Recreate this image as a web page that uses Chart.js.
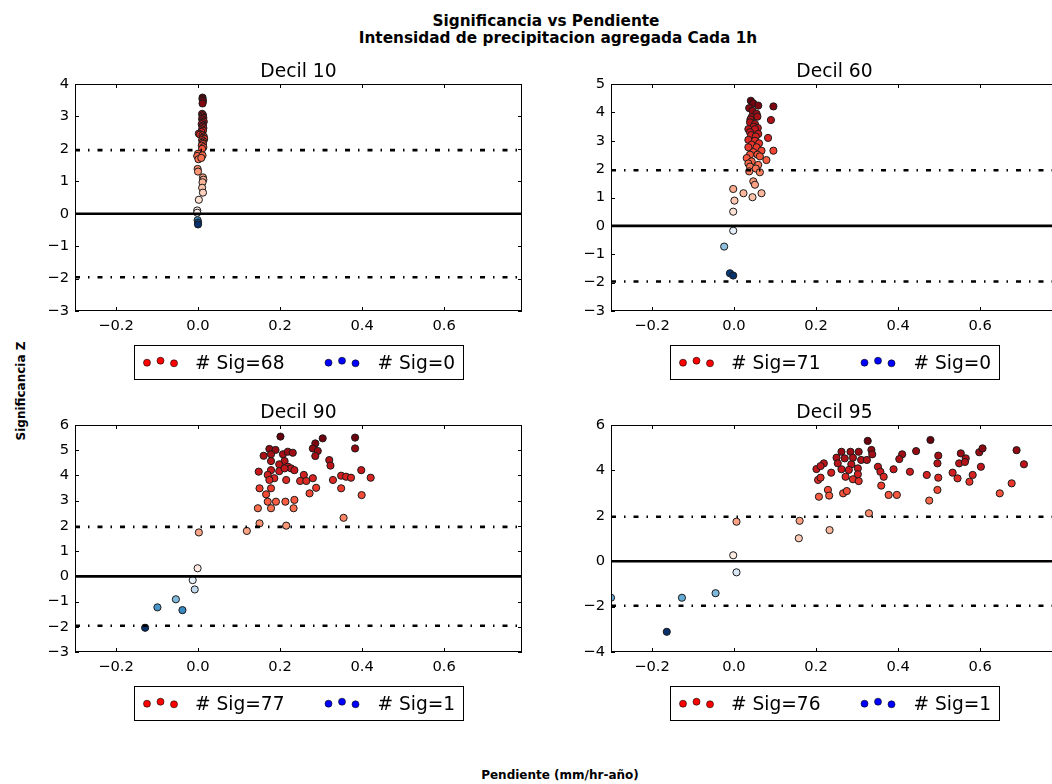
<!DOCTYPE html>
<html>
<head>
<meta charset="utf-8">
<script src="https://cdn.jsdelivr.net/npm/chart.js@4.4.1/dist/chart.umd.min.js"></script>
<style>
  body { margin: 0; background: #fff; width: 1052px; height: 784px; overflow: hidden; position: relative; font-family: 'DejaVu Sans', sans-serif; }
  canvas { position: absolute; }
  .lbl { position: absolute; font-weight: bold; white-space: nowrap; text-align: center; color: #000; }
</style>
</head>
<body>
<div class="lbl" style="left:346px; width:400px; top:14px; font-size:15.3px; line-height:15px;">Significancia vs Pendiente</div>
<div class="lbl" style="left:308px; width:500px; top:31px; font-size:15.3px; line-height:15px;">Intensidad de precipitacion agregada Cada 1h</div>
<div class="lbl" style="left:-79px; width:200px; top:385px; font-size:12px; line-height:12px; transform:rotate(-90deg);">Significancia Z</div>
<div class="lbl" style="left:460px; width:200px; top:769px; font-size:12px; line-height:12px;">Pendiente (mm/hr-año)</div>

<canvas id="c10" width="530" height="340" style="left:0px; top:50px;"></canvas>
<canvas id="c60" width="530" height="340" style="left:536px; top:50px;"></canvas>
<canvas id="c90" width="530" height="340" style="left:0px; top:391px;"></canvas>
<canvas id="c95" width="530" height="340" style="left:536px; top:391px;"></canvas>

<script>
(() => {

  // Data: [pendiente, significancia Z] per decil
  const decilLabels = ['Decil 10', 'Decil 60', 'Decil 90', 'Decil 95'];
  const sigPos = [68, 71, 77, 76];
  const sigNeg = [0, 0, 1, 1];

  const d10 = [
    [0.011,3.58],[0.011,3.53],[0.012,3.47],[0.011,3.40],[0.010,3.08],[0.012,3.04],[0.011,3.00],
    [0.013,2.96],[0.010,2.92],[0.012,2.88],[0.014,2.84],[0.011,2.80],[0.009,2.76],[0.012,2.72],
    [0.011,2.68],[0.013,2.64],[0.010,2.60],[0.012,2.56],[0.008,2.52],[0.002,2.47],[0.005,2.44],
    [0.011,2.42],[0.014,2.38],[0.012,2.34],[0.015,2.31],[0.010,2.27],[0.013,2.23],[0.011,2.19],
    [0.012,2.15],[0.009,2.10],[0.013,2.05],[0.010,2.00],[0.000,1.85],[-0.002,1.78],[0.011,1.80],
    [0.001,1.68],[0.008,1.72],[-0.001,1.38],[0.000,1.30],[0.012,1.12],[0.013,1.05],[0.011,0.97],
    [0.010,0.80],[0.012,0.65],[0.002,0.43],[-0.002,0.10],[-0.002,0.03],[-0.001,-0.20],
    [0.000,-0.27],[0.000,-0.33]
  ];

  const d60 = [
    [0.041,4.41],[0.047,4.32],[0.059,4.24],[0.096,4.21],[0.037,4.15],[0.045,4.05],[0.055,3.95],
    [0.043,3.83],[0.057,3.85],[0.090,3.73],[0.040,3.75],[0.039,3.65],[0.051,3.59],[0.048,3.50],
    [0.058,3.45],[0.035,3.41],[0.051,3.41],[0.039,3.30],[0.059,3.24],[0.042,3.20],[0.053,3.15],
    [0.083,3.10],[0.035,3.03],[0.051,3.00],[0.043,2.86],[0.061,2.91],[0.035,2.77],[0.055,2.77],
    [0.067,2.65],[0.096,2.65],[0.047,2.60],[0.039,2.51],[0.057,2.51],[0.063,2.45],[0.031,2.39],
    [0.079,2.32],[0.043,2.27],[0.035,2.20],[0.059,2.15],[0.039,2.09],[0.053,2.02],[0.037,1.92],
    [0.063,1.89],[0.047,1.57],[0.051,1.45],[-0.002,1.30],[0.023,1.15],[0.067,1.15],[0.045,1.01],
    [0.001,0.89],[-0.002,0.50],[-0.002,-0.17],[-0.024,-0.73],[-0.010,-1.67],[-0.002,-1.75]
  ];

  const d90 = [
    [0.201,5.54],[0.304,5.47],[0.383,5.50],[0.383,5.07],[0.286,5.27],[0.280,5.07],[0.292,4.97],
    [0.286,4.77],[0.174,5.05],[0.189,5.01],[0.160,4.78],[0.178,4.84],[0.207,4.84],[0.219,4.94],
    [0.231,4.90],[0.178,4.57],[0.211,4.57],[0.198,4.44],[0.219,4.35],[0.320,4.61],[0.323,4.39],
    [0.148,4.15],[0.178,4.21],[0.198,4.17],[0.227,4.28],[0.211,4.28],[0.170,4.02],[0.186,3.89],
    [0.174,3.82],[0.215,3.82],[0.235,4.21],[0.398,4.21],[0.421,3.91],[0.258,4.02],[0.280,3.89],
    [0.249,3.78],[0.264,3.78],[0.288,3.51],[0.272,3.29],[0.329,3.82],[0.349,3.99],[0.361,3.95],
    [0.373,3.91],[0.349,3.49],[0.399,3.22],[0.355,2.32],[0.150,3.49],[0.166,3.25],[0.178,3.49],
    [0.170,2.96],[0.190,2.96],[0.213,2.96],[0.235,3.03],[0.178,2.70],[0.146,2.70],[0.233,2.70],
    [0.150,2.10],[0.215,2.01],[0.119,1.80],[0.002,1.74],[-0.001,0.32],[-0.013,-0.15],
    [-0.008,-0.52],[-0.054,-0.91],[-0.099,-1.23],[-0.038,-1.34],[-0.129,-2.04]
  ];

  const d95 = [
    [0.326,5.30],[0.479,5.34],[0.262,4.82],[0.284,4.82],[0.304,4.82],[0.335,4.90],[0.337,4.71],
    [0.250,4.56],[0.270,4.53],[0.290,4.56],[0.310,4.46],[0.324,4.46],[0.253,4.31],[0.286,4.27],
    [0.410,4.71],[0.403,4.50],[0.444,4.85],[0.498,4.65],[0.496,4.31],[0.553,4.75],[0.565,4.53],
    [0.549,4.31],[0.563,4.37],[0.598,4.80],[0.606,4.97],[0.689,4.89],[0.707,4.27],[0.201,4.06],
    [0.219,4.31],[0.211,4.19],[0.237,3.90],[0.262,4.05],[0.280,4.02],[0.302,4.09],[0.272,3.72],
    [0.290,3.61],[0.304,3.53],[0.302,3.83],[0.351,4.16],[0.357,3.94],[0.365,3.72],[0.389,4.05],
    [0.429,3.94],[0.470,3.80],[0.498,3.68],[0.533,3.90],[0.545,3.65],[0.574,3.50],[0.582,3.80],
    [0.602,4.16],[0.677,3.43],[0.648,2.99],[0.205,3.58],[0.211,3.68],[0.229,3.14],[0.232,2.89],
    [0.207,2.84],[0.266,2.99],[0.275,3.09],[0.359,3.33],[0.377,2.92],[0.397,2.92],[0.496,3.14],
    [0.476,2.67],[0.329,2.11],[0.160,1.78],[0.233,1.37],[0.158,1.01],[0.006,1.74],[-0.002,0.26],
    [0.006,-0.49],[-0.045,-1.41],[-0.127,-1.61],[-0.164,-3.11],[-0.300,-1.61]
  ];

  const panelData = [d10, d60, d90, d95];
  const canvasIds = ['c10', 'c60', 'c90', 'c95'];

  // Axes
  const xMin = -0.3;
  const xMax = 0.79;
  const xTicks = [-0.2, 0.0, 0.2, 0.4, 0.6];
  const yMin = [-3, -3, -3, -4];
  const yMax = [4, 5, 6, 6];
  const yStep = [1, 1, 1, 2];
  const sigLevel = 1.96;

  // Colormaps (Reds / Blues)
  const reds = ['#fff5f0','#fee0d2','#fcbba1','#fc9272','#fb6a4a','#ef3b2c','#cb181d','#a50f15','#67000d'];
  const blues = ['#f7fbff','#deebf7','#c6dbef','#9ecae1','#6baed6','#4292c6','#2171b5','#08519c','#08306b'];

  const hexRgb = h => [1, 3, 5].map(i => parseInt(h.substr(i, 2), 16));
  const cmap = (stops, t) => {
    t = Math.max(0, Math.min(1, t));
    const p = t * (stops.length - 1);
    const i = Math.min(Math.floor(p), stops.length - 2);
    const f = p - i;
    const a = hexRgb(stops[i]), b = hexRgb(stops[i + 1]);
    const c = a.map((v, k) => Math.round(v + (b[k] - v) * f));
    return 'rgb(' + c.join(',') + ')';
  };

  const minus = s => s.replace('-', '\u2212');

  const font = '"DejaVu Sans"';

  // Frame, inside ticks, title and legend box
  const decor = {
    id: 'decor',
    afterDraw(chart, args, opts) {
      const { ctx, chartArea: a, scales } = chart;
      ctx.save();
      ctx.strokeStyle = '#000';
      ctx.lineWidth = 1;
      ctx.strokeRect(a.left + 0.5, a.top + 0.5, a.right - a.left - 1, a.bottom - a.top - 1);

      ctx.beginPath();
      for (const t of scales.x.ticks) {
        const px = Math.round(scales.x.getPixelForValue(t.value)) + 0.5;
        ctx.moveTo(px, a.bottom); ctx.lineTo(px, a.bottom - 4);
        ctx.moveTo(px, a.top); ctx.lineTo(px, a.top + 4);
      }
      for (const t of scales.y.ticks) {
        const py = Math.round(scales.y.getPixelForValue(t.value)) + 0.5;
        ctx.moveTo(a.left, py); ctx.lineTo(a.left + 4, py);
        ctx.moveTo(a.right, py); ctx.lineTo(a.right - 4, py);
      }
      ctx.stroke();

      const cx = (a.left + a.right) / 2;
      ctx.fillStyle = '#000';
      ctx.textAlign = 'center';
      ctx.textBaseline = 'alphabetic';
      ctx.font = '18.7px ' + font;
      ctx.fillText(opts.title, cx, a.top - 7);

      // legend
      const t1 = '# Sig=' + opts.pos;
      const t2 = '# Sig=' + opts.neg;
      ctx.font = '18.6px ' + font;
      const w1 = ctx.measureText(t1).width;
      const w2 = ctx.measureText(t2).width;
      const bw = 162 + w1 + w2;
      const bx = Math.round(cx - bw / 2);
      const by = a.bottom + 34;
      ctx.strokeRect(bx + 0.5, by + 0.5, Math.round(bw), 34);
      const dy = [0.7, -1.3, 1.3];
      const dots = (x0, color) => {
        [0, 13.5, 27].forEach((off, k) => {
          ctx.beginPath();
          ctx.arc(x0 + off, by + 17 + dy[k], 3.5, 0, Math.PI * 2);
          ctx.fillStyle = color;
          ctx.fill();
          ctx.lineWidth = 0.6;
          ctx.strokeStyle = '#000';
          ctx.stroke();
        });
      };
      dots(bx + 13, '#ff0000');
      const b2 = bx + 61 + w1 + 44;
      dots(b2, '#0000ff');
      ctx.fillStyle = '#000';
      ctx.textAlign = 'left';
      ctx.fillText(t1, bx + 61, by + 23.5);
      ctx.fillText(t2, b2 + 49, by + 23.5);
      ctx.restore();
    }
  };

  panelData.forEach((pts, i) => {
    const zMax = Math.max(...pts.map(p => p[1]));
    const zMin = Math.min(...pts.map(p => p[1]));
    const colors = pts.map(p => p[1] >= 0 ? cmap(reds, p[1] / zMax) : cmap(blues, p[1] / zMin));

    const yTicks = [];
    for (let v = yMin[i]; v <= yMax[i]; v += yStep[i]) yTicks.push(v);

    const hline = (y, dash) => ({
      type: 'line',
      data: [{ x: xMin, y: y }, { x: xMax, y: y }],
      borderColor: '#000',
      borderWidth: 2.6,
      borderDash: dash,
      pointRadius: 0,
      fill: false,
      clip: 0,
      order: 0
    });

    new Chart(document.getElementById(canvasIds[i]), {
      type: 'scatter',
      data: {
        datasets: [
          hline(0, []),
          hline(sigLevel, [5, 8, 1.5, 8]),
          hline(-sigLevel, [5, 8, 1.5, 8]),
          {
            type: 'scatter',
            data: pts.map(p => ({ x: p[0], y: p[1] })),
            pointBackgroundColor: colors,
            pointBorderColor: '#1a1a1a',
            pointBorderWidth: 1,
            pointRadius: 3.6,
            clip: 0,
            order: 1
          }
        ]
      },
      options: {
        responsive: false,
        animation: false,
        devicePixelRatio: 1,
        events: [],
        layout: { padding: { left: 30, top: 34, right: 8, bottom: 49 } },
        plugins: {
          legend: { display: false },
          tooltip: { enabled: false },
          decor: { title: decilLabels[i], pos: sigPos[i], neg: sigNeg[i] }
        },
        scales: {
          x: {
            type: 'linear',
            min: xMin,
            max: xMax,
            grid: { display: false, drawTicks: false },
            border: { display: false },
            afterBuildTicks: s => { s.ticks = xTicks.map(v => ({ value: v })); },
            afterFit: s => { s.height = 30; },
            ticks: {
              padding: 6,
              color: '#000',
              font: { family: 'DejaVu Sans', size: 14.7 },
              callback: v => minus(v.toFixed(1))
            }
          },
          y: {
            type: 'linear',
            min: yMin[i],
            max: yMax[i],
            grid: { display: false, drawTicks: false },
            border: { display: false },
            afterBuildTicks: s => { s.ticks = yTicks.map(v => ({ value: v })); },
            afterFit: s => { s.width = 45; },
            ticks: {
              padding: 6,
              color: '#000',
              font: { family: 'DejaVu Sans', size: 14.7 },
              callback: v => minus(String(v))
            }
          }
        }
      },
      plugins: [decor]
    });
  });

})();
</script>
</body>
</html>
